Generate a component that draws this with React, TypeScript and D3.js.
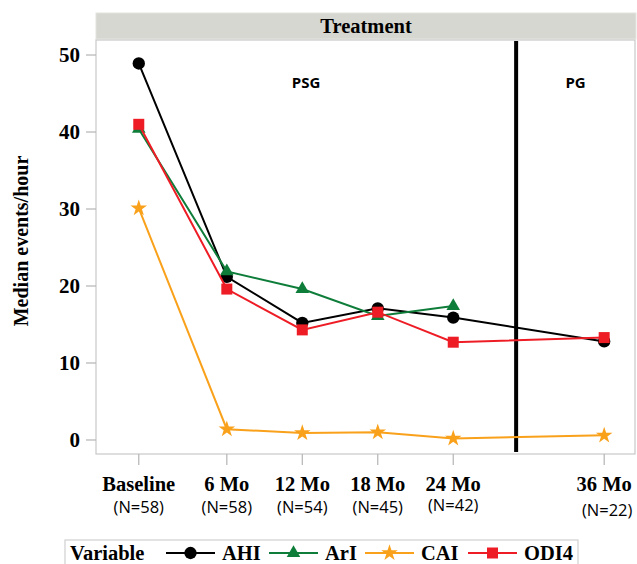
import React, { useEffect, useRef } from "react";
import * as d3 from "d3";

// ---- data ----
const months = [-1, 6, 12, 18, 24, 36]; // Baseline is plotted one month before start
const timeLabels = ["Baseline", "6 Mo", "12 Mo", "18 Mo", "24 Mo", "36 Mo"];
const nLabels = ["(N=58)", "(N=58)", "(N=54)", "(N=45)", "(N=42)", "(N=22)"];
const ahi = [48.9, 21.2, 15.2, 17.1, 15.9, 12.8];
const ari = [40.4, 21.9, 19.6, 16.1, 17.4, null];
const cai = [30.1, 1.4, 0.9, 1.0, 0.2, 0.6];
const odi4 = [41.0, 19.6, 14.3, 16.6, 12.7, 13.3];
const yTicks = [0, 10, 20, 30, 40, 50];
const dividerMonth = 29;
const phaseLabels = ["PSG", "PG"];
const seriesNames = ["AHI", "ArI", "CAI", "ODI4"];

const W = 637;
const H = 564;
const serif = "'Liberation Serif', 'Times New Roman', serif";
const sans = "'Open Sans', 'Noto Sans', sans-serif";

export default function App() {
  const ref = useRef<SVGSVGElement>(null);

  useEffect(() => {
    const svg = d3.select(ref.current);
    svg.selectAll("*").remove();

    const left = 96, right = 635, top = 40, bottom = 454;
    const x = d3.scaleLinear().domain([-4.4, 38.45]).range([left, right]);
    const y = d3.scaleLinear().domain([-1.82, 51.95]).range([bottom, top]);

    // header strip
    svg.append("rect").attr("x", left).attr("y", 13).attr("width", 540).attr("height", 26)
      .attr("fill", "#d6d7d0").attr("stroke", "#e4e4e0").attr("stroke-width", 1);
    svg.append("text").attr("x", (left + 636) / 2).attr("y", 33).attr("text-anchor", "middle")
      .attr("font-family", serif).attr("font-weight", "bold").attr("font-size", 20.5)
      .attr("fill", "#000").text("Treatment");

    // plot frame
    svg.append("rect").attr("x", left).attr("y", top).attr("width", right - left).attr("height", bottom - top)
      .attr("fill", "#fff").attr("stroke", "#c8c8c8").attr("stroke-width", 1.2);

    // y axis ticks & labels
    const gy = svg.append("g");
    yTicks.forEach((t) => {
      gy.append("line").attr("x1", left - 10).attr("x2", left).attr("y1", y(t)).attr("y2", y(t))
        .attr("stroke", "#b4b4b4").attr("stroke-width", 1.2);
      gy.append("text").attr("x", 80).attr("y", y(t)).attr("dy", "0.34em").attr("text-anchor", "end")
        .attr("font-family", serif).attr("font-weight", "bold").attr("font-size", 21)
        .attr("fill", "#000").text(String(t));
    });
    svg.append("text").attr("transform", "translate(28,241) rotate(-90)").attr("text-anchor", "middle")
      .attr("font-family", serif).attr("font-weight", "bold").attr("font-size", 20)
      .attr("fill", "#000").text("Median events/hour");

    // x axis ticks & labels
    const nOffsets = [0, 0, 0, 0, -2, 3];
    months.forEach((m, i) => {
      svg.append("line").attr("x1", x(m)).attr("x2", x(m)).attr("y1", bottom).attr("y2", bottom + 11)
        .attr("stroke", "#b4b4b4").attr("stroke-width", 1.2);
      svg.append("text").attr("x", x(m)).attr("y", 491).attr("text-anchor", "middle")
        .attr("font-family", serif).attr("font-weight", "bold").attr("font-size", 20.5)
        .attr("fill", "#000").text(timeLabels[i]);
      svg.append("text").attr("x", x(m) + (i === 5 ? 3 : 0)).attr("y", 513 + nOffsets[i]).attr("text-anchor", "middle")
        .attr("font-family", sans).attr("font-size", 16.5)
        .attr("fill", "#000").text(nLabels[i]);
    });

    // phase labels
    const d0 = x.domain()[0], d1 = x.domain()[1];
    const phaseCenters = [(d0 + dividerMonth) / 2, (dividerMonth + d1) / 2];
    phaseLabels.forEach((p, i) => {
      svg.append("text").attr("x", x(phaseCenters[i])).attr("y", 88).attr("text-anchor", "middle")
        .attr("font-family", sans).attr("font-weight", "bold").attr("font-size", 15)
        .attr("fill", "#000").text(p);
    });

    // divider
    svg.append("line").attr("x1", x(dividerMonth)).attr("x2", x(dividerMonth))
      .attr("y1", top + 1).attr("y2", bottom - 2).attr("stroke", "#000").attr("stroke-width", 4);

    const series = [
      { name: seriesNames[0], values: ahi, color: "#000000", symbol: d3.symbolCircle, size: 120 },
      { name: seriesNames[1], values: ari, color: "#0f7d3a", symbol: d3.symbolTriangle, size: 80 },
      { name: seriesNames[2], values: cai, color: "#f9a11b", symbol: d3.symbolStar, size: 85 },
      { name: seriesNames[3], values: odi4, color: "#ee1c25", symbol: d3.symbolSquare, size: 121 },
    ];

    series.forEach((s) => {
      const pts = months.map((m, i) => ({ m, v: s.values[i] })).filter((p) => p.v != null) as { m: number; v: number }[];
      const line = d3.line<{ m: number; v: number }>().x((d) => x(d.m)).y((d) => y(d.v));
      svg.append("path").attr("d", line(pts)).attr("fill", "none").attr("stroke", s.color).attr("stroke-width", 2);
      pts.forEach((p) => {
        svg.append("path").attr("d", d3.symbol(s.symbol, s.size)())
          .attr("transform", `translate(${x(p.m)},${y(p.v)})`).attr("fill", s.color);
      });
    });

    // legend
    const ly = 553;
    svg.append("rect").attr("x", 65).attr("y", 540).attr("width", 513).attr("height", 40)
      .attr("fill", "#fff").attr("stroke", "#d0d0d0").attr("stroke-width", 1.2);
    svg.append("text").attr("x", 70).attr("y", 560)
      .attr("font-family", serif).attr("font-weight", "bold").attr("font-size", 20.5)
      .attr("fill", "#000").text("Variable");
    const itemStarts = [166, 269, 365, 468];
    series.forEach((s, i) => {
      const cx = itemStarts[i];
      svg.append("line").attr("x1", cx).attr("x2", cx + 49).attr("y1", ly).attr("y2", ly)
        .attr("stroke", s.color).attr("stroke-width", 2);
      svg.append("path").attr("d", d3.symbol(s.symbol, s.size)())
        .attr("transform", `translate(${cx + 24.5},${ly})`).attr("fill", s.color);
      svg.append("text").attr("x", cx + 56).attr("y", 560)
        .attr("font-family", serif).attr("font-weight", "bold").attr("font-size", 20.5)
        .attr("fill", "#000").text(s.name);
    });
  }, []);

  return (
    <svg ref={ref} width={W} height={H}
      style={{ position: "absolute", left: 0, top: 0, display: "block", background: "#fff" }} />
  );
}
